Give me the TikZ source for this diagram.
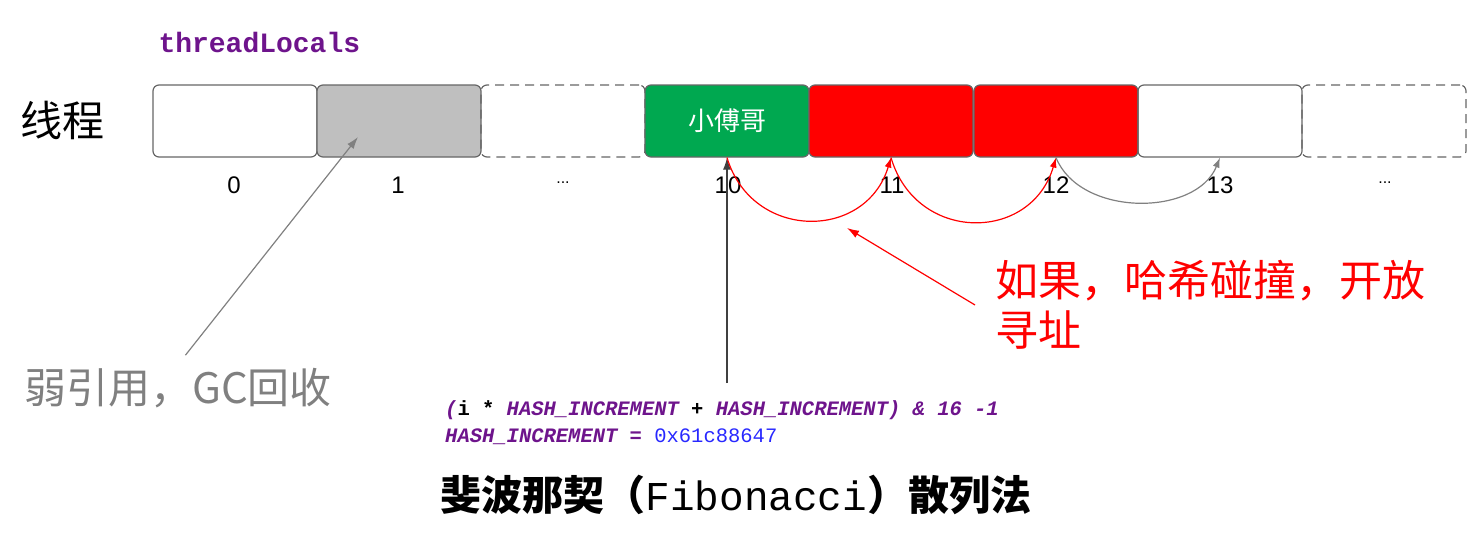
\documentclass[tikz,border=0pt]{standalone}
\usepackage{fontspec}
\setmainfont{Liberation Sans}
\newfontfamily\cjk{Noto Sans CJK SC}
\newfontfamily\monofont{Liberation Mono}
\usetikzlibrary{positioning, arrows.meta}
\definecolor{cellgreen}{RGB}{0,168,80}
\definecolor{cellgray}{RGB}{191,191,191}
\definecolor{linegray}{RGB}{102,102,102}
\definecolor{codepurple}{RGB}{110,20,140}
\definecolor{codeblue}{RGB}{40,40,255}
\definecolor{notegray}{RGB}{128,128,128}

\begin{document}
\begin{tikzpicture}
    [x=1pt, y=-1pt, >={Latex[length=12pt,width=8pt]},
     cell/.style={rectangle,rounded corners=6pt,draw=linegray,line width=1.2pt,
                  minimum width=164pt,minimum height=72pt,inner sep=0pt},
     dashcell/.style={cell,dash pattern=on 9pt off 6pt},
     index/.style={font=\fontsize{24}{28}\selectfont},
     probe/.style={->,red,line width=1.2pt,>={Latex[length=10pt,width=7pt]}}]
    \useasboundingbox (0,0) rectangle (1482,554);

    \node (tl) at (155,42) [anchor=west,text=codepurple]
        {\monofont\bfseries\fontsize{28}{32}\selectfont threadLocals};
    \node (thread) at (62,120) {\cjk\fontsize{42}{50}\selectfont 线程};

    \node (c0) at (235,121) [cell] {};
    \node (c1) at (399,121) [cell,fill=cellgray] {};
    \node (c2) at (563,121) [dashcell] {};
    \node (c10) at (727,121) [cell,fill=cellgreen,text=white]
        {\cjk\fontsize{26}{30}\selectfont 小傅哥};
    \node (c11) at (891,121) [cell,fill=red] {};
    \node (c12) at (1056,121) [cell,fill=red] {};
    \node (c13) at (1220,121) [cell] {};
    \node (c14) at (1384,121) [dashcell] {};

    \node (i0) at (234,185) [index] {0};
    \node (i1) at (398,185) [index] {1};
    \node (i2) at (563,183) [index] {\fontsize{16}{18}\selectfont ...};
    \node (i10) at (728,185) [index] {10};
    \node (i11) at (892,185) [index] {11};
    \node (i12) at (1056,185) [index] {12};
    \node (i13) at (1220,185) [index] {13};
    \node (i14) at (1385,183) [index] {\fontsize{16}{18}\selectfont ...};

    \node (weak) at (178,388) [text=notegray] {\cjk\fontsize{42}{50}\selectfont 弱引用，GC回收};
    \node (hint) at (975,305) [anchor=west,text=red,align=left,inner xsep=20pt,inner ysep=0pt,
        font=\cjk\fontsize{43}{50}\selectfont]
        {如果，哈希碰撞，开放\\寻址};

    \node (code1) at (445,410) [anchor=west,inner sep=0pt,text=codepurple]
        {\monofont\bfseries\itshape\fontsize{20.5}{24}\selectfont
         (\textcolor{black}{\upshape i *} HASH\_INCREMENT \textcolor{black}{+} HASH\_INCREMENT) \& 16 -1};
    \node (code2) at (445,437) [anchor=west,inner sep=0pt,text=codepurple]
        {\monofont\bfseries\itshape\fontsize{20.5}{24}\selectfont
         HASH\_INCREMENT = \textcolor{codeblue}{\mdseries\upshape 0x61c88647}};
    \node (title) at (736,495)
        {\cjk\bfseries\fontsize{41}{48}\selectfont 斐波那契（{\monofont\mdseries Fibonacci}）散列法};

    \coordinate (gcspot) at (358,137);
    \coordinate (hashsrc) at (727,383);
    \coordinate (probespot) at (847,228);

    \draw[->,notegray,line width=1.2pt,shorten <=12pt] (weak.north) -- (gcspot);
    \draw[->,black!75,line width=1.2pt] (hashsrc) -- (c10.south);

    \draw[probe] (c10.south) .. controls (752,241) and (866,241) .. (c11.south);
    \draw[probe] (c11.south) .. controls (916,243) and (1031,243) .. (c12.south);
    \draw[probe,notegray] (c12.south) .. controls (1080,217) and (1196,217) .. (c13.south);

    \draw[->,red,line width=1.2pt] (hint.west) -- (probespot);
\end{tikzpicture}
\end{document}
